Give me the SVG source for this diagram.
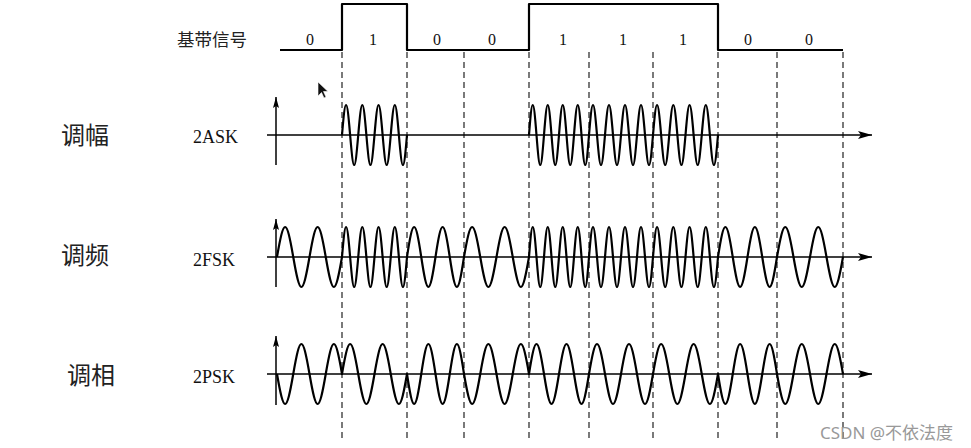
<svg xmlns="http://www.w3.org/2000/svg" width="971" height="448" viewBox="0 0 971 448">
<style>
.wave{fill:none;stroke:#000;stroke-width:2.2;stroke-linejoin:round}
.axis{fill:none;stroke:#000;stroke-width:1.5}
.dash{stroke:#333;stroke-width:1.3;stroke-dasharray:6 4}
.num{font-family:"Liberation Serif",serif;font-size:16px;fill:#111;text-anchor:middle}
.lbl{font-family:"Liberation Serif",serif;font-size:18px;fill:#111}
.cn{font-family:"Noto Sans CJK SC",sans-serif;font-size:24px;fill:#222}
</style>
<defs>
<marker id="ah" markerUnits="userSpaceOnUse" markerWidth="16" markerHeight="10" refX="14" refY="5" orient="auto"><path d="M0,1 L14,5 L0,9 L3,5 Z" fill="#000"/></marker>
<marker id="av" markerUnits="userSpaceOnUse" markerWidth="12" markerHeight="8" refX="11" refY="4" orient="auto"><path d="M0,1 L11,4 L0,7 L2,4 Z" fill="#000"/></marker>
</defs>
<rect width="971" height="448" fill="#fff"/>
<g id="dashes">
<line class="dash" x1="342" y1="52" x2="342" y2="440"/>
<line class="dash" x1="407" y1="52" x2="407" y2="440"/>
<line class="dash" x1="464" y1="52" x2="464" y2="440"/>
<line class="dash" x1="529" y1="52" x2="529" y2="440"/>
<line class="dash" x1="589" y1="52" x2="589" y2="440"/>
<line class="dash" x1="653" y1="52" x2="653" y2="440"/>
<line class="dash" x1="718" y1="52" x2="718" y2="440"/>
<line class="dash" x1="777" y1="52" x2="777" y2="440"/>
<line class="dash" x1="843" y1="52" x2="843" y2="440"/>
</g>
<g id="baseband">
<text x="177" y="45.5" style="font-family:'Noto Sans CJK SC',sans-serif;font-size:17.5px;fill:#222">基带信号</text>
<path class="wave" d="M280,50 H342 V4 H407 V50 H529 V4 H718 V50 H843"/>
<text class="num" x="310" y="45">0</text>
<text class="num" x="373" y="45">1</text>
<text class="num" x="437" y="45">0</text>
<text class="num" x="492" y="45">0</text>
<text class="num" x="563" y="45">1</text>
<text class="num" x="623" y="45">1</text>
<text class="num" x="683" y="45">1</text>
<text class="num" x="748" y="45">0</text>
<text class="num" x="809" y="45">0</text>
</g>
<g id="ask">
<text class="cn" x="61" y="144">调幅</text>
<text class="lbl" x="193" y="143">2ASK</text>
<line class="axis" x1="276" y1="165" x2="276" y2="97" marker-end="url(#av)"/>
<line class="axis" x1="267" y1="135" x2="872" y2="135" marker-end="url(#ah)"/>
<path class="wave" d="M342,135
c3.45,-40 4.68,-40 8.125,0 s4.68,40 8.125,0 s4.68,-40 8.125,0 s4.68,40 8.125,0 s4.68,-40 8.125,0 s4.68,40 8.125,0 s4.68,-40 8.125,0 s4.68,40 8.125,0
M529,135
c3.18,-40 4.32,-40 7.5,0 s4.32,40 7.5,0 s4.32,-40 7.5,0 s4.32,40 7.5,0 s4.32,-40 7.5,0 s4.32,40 7.5,0 s4.32,-40 7.5,0 s4.32,40 7.5,0
c3.4,-40 4.6,-40 8,0 s4.6,40 8,0 s4.6,-40 8,0 s4.6,40 8,0 s4.6,-40 8,0 s4.6,40 8,0 s4.6,-40 8,0 s4.6,40 8,0
c3.45,-40 4.68,-40 8.125,0 s4.68,40 8.125,0 s4.68,-40 8.125,0 s4.68,40 8.125,0 s4.68,-40 8.125,0 s4.68,40 8.125,0 s4.68,-40 8.125,0 s4.68,40 8.125,0"/>
</g>
<g id="fsk">
<text class="cn" x="61" y="264">调频</text>
<text class="lbl" x="193" y="266">2FSK</text>
<line class="axis" x1="276" y1="287" x2="276" y2="219" marker-end="url(#av)"/>
<line class="axis" x1="267" y1="257" x2="872" y2="257" marker-end="url(#ah)"/>
<path class="wave" d="M277,257
c6.9,-40 9.35,-40 16.25,0 s9.35,40 16.25,0 s9.35,-40 16.25,0 s9.35,40 16.25,0
c3.45,-40 4.68,-40 8.125,0 s4.68,40 8.125,0 s4.68,-40 8.125,0 s4.68,40 8.125,0 s4.68,-40 8.125,0 s4.68,40 8.125,0 s4.68,-40 8.125,0 s4.68,40 8.125,0
c6.05,-40 8.2,-40 14.25,0 s8.2,40 14.25,0 s8.2,-40 14.25,0 s8.2,40 14.25,0
c6.9,-40 9.35,-40 16.25,0 s9.35,40 16.25,0 s9.35,-40 16.25,0 s9.35,40 16.25,0
c3.18,-40 4.32,-40 7.5,0 s4.32,40 7.5,0 s4.32,-40 7.5,0 s4.32,40 7.5,0 s4.32,-40 7.5,0 s4.32,40 7.5,0 s4.32,-40 7.5,0 s4.32,40 7.5,0
c3.4,-40 4.6,-40 8,0 s4.6,40 8,0 s4.6,-40 8,0 s4.6,40 8,0 s4.6,-40 8,0 s4.6,40 8,0 s4.6,-40 8,0 s4.6,40 8,0
c3.45,-40 4.68,-40 8.125,0 s4.68,40 8.125,0 s4.68,-40 8.125,0 s4.68,40 8.125,0 s4.68,-40 8.125,0 s4.68,40 8.125,0 s4.68,-40 8.125,0 s4.68,40 8.125,0
c6.26,-40 8.49,-40 14.75,0 s8.49,40 14.75,0 s8.49,-40 14.75,0 s8.49,40 14.75,0
c7,-40 9.5,-40 16.5,0 s9.5,40 16.5,0 s9.5,-40 16.5,0 s9.5,40 16.5,0"/>
</g>
<g id="psk">
<text class="cn" x="67" y="384">调相</text>
<text class="lbl" x="193" y="383">2PSK</text>
<line class="axis" x1="276" y1="405" x2="276" y2="336" marker-end="url(#av)"/>
<line class="axis" x1="267" y1="374" x2="872" y2="374" marker-end="url(#ah)"/>
<path class="wave" d="M277,374
c6.9,40 9.35,40 16.25,0 s9.35,-40 16.25,0 s9.35,40 16.25,0 s9.35,-40 16.25,0
c6.9,-40 9.35,-40 16.25,0 s9.35,40 16.25,0 s9.35,-40 16.25,0 s9.35,40 16.25,0
c6.05,40 8.2,40 14.25,0 s8.2,-40 14.25,0 s8.2,40 14.25,0 s8.2,-40 14.25,0
c6.9,40 9.35,40 16.25,0 s9.35,-40 16.25,0 s9.35,40 16.25,0 s9.35,-40 16.25,0
c6.37,-40 8.63,-40 15,0 s8.63,40 15,0 s8.63,-40 15,0 s8.63,40 15,0
c6.79,-40 9.21,-40 16,0 s9.21,40 16,0 s9.21,-40 16,0 s9.21,40 16,0
c6.9,-40 9.35,-40 16.25,0 s9.35,40 16.25,0 s9.35,-40 16.25,0 s9.35,40 16.25,0
c6.26,40 8.49,40 14.75,0 s8.49,-40 14.75,0 s8.49,40 14.75,0 s8.49,-40 14.75,0
c7,40 9.5,40 16.5,0 s9.5,-40 16.5,0 s9.5,40 16.5,0 s9.5,-40 16.5,0"/>
</g>
<path id="cursor" d="M318,82 L318,96 L321.5,92.5 L324,98 L326,97 L323.5,91.5 L328,91.5 Z" fill="#111" stroke="#fff" stroke-width="0.6"/>
<text id="watermark" x="820" y="439" style="font-family:'Noto Sans',sans-serif,'Noto Sans CJK SC';font-size:17px;fill:#999">CSDN @不依法度</text>
</svg>
